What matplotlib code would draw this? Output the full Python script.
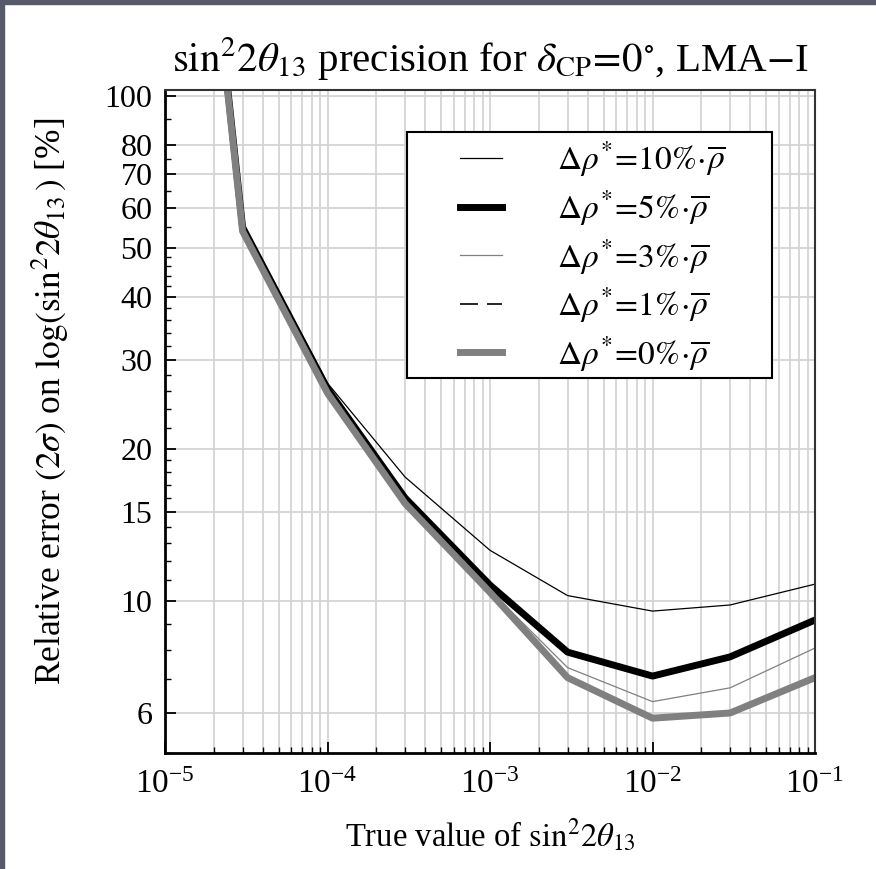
import numpy as np
import matplotlib
matplotlib.use('Agg')
import matplotlib.pyplot as plt
from matplotlib.patches import Rectangle
from matplotlib.ticker import NullFormatter

plt.rcParams['font.family'] = ['Liberation Serif', 'DejaVu Serif']
plt.rcParams['mathtext.fontset'] = 'stix'

# true sin^2 2theta13 values and relative errors [%]
theta_true = [1e-5, 3e-5, 1e-4, 3e-4, 1e-3, 3e-3, 1e-2, 3e-2, 1e-1]
err_10 = [1500, 56.0, 27.0, 17.6, 12.6, 10.25, 9.55, 9.82, 10.8]
err_5 = [1480, 55.0, 26.3, 16.0, 10.75, 7.92, 7.10, 7.75, 9.17]
err_3 = [1470, 54.5, 26.0, 15.7, 10.5, 7.38, 6.32, 6.73, 8.07]
err_1 = [1460, 54.2, 25.9, 15.6, 10.4, 7.10, 5.90, 6.05, 7.10]
err_0 = [1460, 54.0, 25.8, 15.6, 10.4, 7.05, 5.86, 6.00, 7.05]

labels = [r'$\Delta\rho^{*}\!=\!10\%\!\cdot\!\overline{\rho}$',
          r'$\Delta\rho^{*}\!=\!5\%\!\cdot\!\overline{\rho}$',
          r'$\Delta\rho^{*}\!=\!3\%\!\cdot\!\overline{\rho}$',
          r'$\Delta\rho^{*}\!=\!1\%\!\cdot\!\overline{\rho}$',
          r'$\Delta\rho^{*}\!=\!0\%\!\cdot\!\overline{\rho}$']

ytick_vals = [6, 10, 15, 20, 30, 40, 50, 60, 70, 80, 100]
ytick_minor = [5, 7, 8, 9, 11, 12, 13, 14, 16, 17, 18, 19, 22, 24, 26, 28,
               32, 34, 36, 38, 42, 44, 46, 48, 55, 65, 75, 90]

fig = plt.figure(figsize=(8.76, 8.69), dpi=100)
# dark strips at the top / left edge of the screenshot
fig.patches.append(Rectangle((0, 0), 4 / 876, 1, transform=fig.transFigure,
                             color='#575a68', zorder=0))
fig.patches.append(Rectangle((0, 1 - 4 / 869), 1, 4 / 869, transform=fig.transFigure,
                             color='#575a68', zorder=0))

ax = fig.add_axes([0.1884, 0.1335, 0.742, 0.7629])
ax.set_xscale('log')
ax.set_yscale('log')

ax.plot(theta_true, err_10, color='black', lw=0.9, label=labels[0])
ax.plot(theta_true, err_5, color='black', lw=5, label=labels[1])
ax.plot(theta_true, err_3, color='#808080', lw=0.9, label=labels[2])
ax.plot(theta_true, err_1, color='black', lw=1.2, ls=(0, (10.8, 5.4)), label=labels[3])
ax.plot(theta_true, err_0, color='#808080', lw=5, label=labels[4])

ax.set_xlim(1e-5, 1e-1)
ax.set_ylim(5.0, 102.8)

ax.set_yticks(ytick_vals, labels=[str(v) for v in ytick_vals])
ax.set_yticks(ytick_minor, minor=True)
ax.yaxis.set_minor_formatter(NullFormatter())
ax.xaxis.set_minor_formatter(NullFormatter())

ax.set_axisbelow(True)
ax.grid(True, which='both', axis='x', color='#d4d4d4', lw=1.3)
ax.grid(True, which='major', axis='y', color='#d4d4d4', lw=1.3)

ax.tick_params(which='both', direction='in', top=False, right=False, color='black')
ax.tick_params(which='major', length=8, width=1.3)
ax.tick_params(which='minor', length=4, width=1.0)
ax.tick_params(axis='y', labelsize=23, pad=9)
ax.tick_params(axis='x', labelsize=24, pad=12)

for s in ['left', 'bottom']:
    ax.spines[s].set_linewidth(2)
    ax.spines[s].set_color('black')
for s in ['top', 'right']:
    ax.spines[s].set_linewidth(1.5)
    ax.spines[s].set_color('#333333')

ax.set_title(r'$\sin^2\!2\theta_{13}$ precision for $\delta_{\mathrm{CP}}\!=\!0^{\circ}$, LMA$-$I',
             fontsize=29.5, pad=14)
ax.set_xlabel(r'True value of $\sin^2\!2\theta_{13}$', fontsize=23.5, labelpad=12)
ax.set_ylabel(r'Relative error $(2\sigma)$ on $\log(\sin^2\!2\theta_{13}\,)$ [%]', fontsize=25.5)
ax.yaxis.set_label_coords(-0.143, 0.531)

# legend box
ax.add_patch(Rectangle((0.372, 0.566), 0.562, 0.371, transform=ax.transAxes,
                       facecolor='white', edgecolor='black', lw=1.5, zorder=5))
leg = ax.legend(loc='upper left', bbox_to_anchor=(0.4538, 0.925), frameon=False,
                fontsize=24, handlelength=1.26, handletextpad=1.65,
                borderpad=0, borderaxespad=0, labelspacing=0.27)
leg.set_zorder(6)

fig.savefig('out.png', dpi=100)
